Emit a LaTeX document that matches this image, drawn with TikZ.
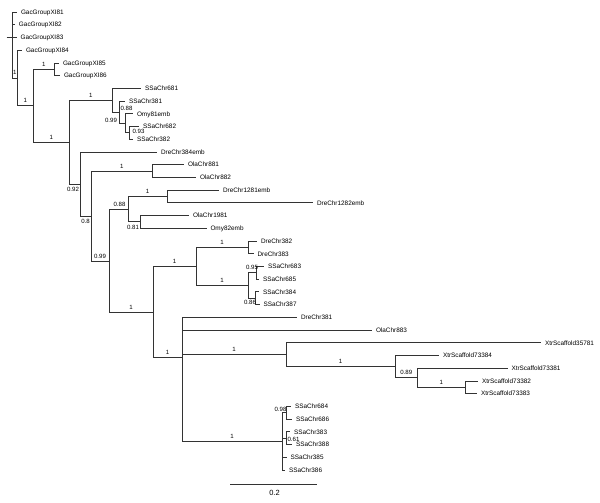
\documentclass[tikz,border=0pt]{standalone}
\usepackage{fontspec}
\setmainfont{Liberation Sans}
\tikzset{
  br/.style={draw=black!80, line width=0.75pt},
  tiplab/.style={anchor=base west, inner sep=0pt, font=\fontsize{6.4}{7.5}\selectfont, text=black},
  suplab/.style={anchor=center, inner sep=0pt, font=\fontsize{6.1}{7}\selectfont, text=black},
}
\newcommand{\mytip}[5]{%
  \coordinate (#1) at (#3,#4);
  \draw[br] (#2) |- (#1);
  \node[tiplab] (#1l) at ([xshift=3.8pt,yshift=-2.3pt]#1) {#5};}
\newcommand{\bslab}[4]{\node[suplab] (#1) at (#2,#3) {#4};}
\begin{document}
\begin{tikzpicture}[x=1pt,y=-1pt]
\useasboundingbox (0,0) rectangle (600,503);
% internal nodes
\coordinate (A) at (12.3,45.0);
\coordinate (B) at (17.3,77.95);
\coordinate (C) at (33.3,105.7);
\coordinate (D) at (54.3,69.25);
\coordinate (E) at (69.3,142.1);
\coordinate (F) at (112.3,100.2);
\coordinate (F1) at (119,112.15);
\coordinate (F2) at (125.7,123.3);
\coordinate (F3) at (129,132.85);
\coordinate (G) at (80,184.0);
\coordinate (H) at (91,216.15);
\coordinate (Ola8) at (152.7,171.0);
\coordinate (I) at (109,261.3);
\coordinate (J) at (128,209.15);
\coordinate (L) at (167,196.45);
\coordinate (M) at (140,221.85);
\coordinate (K) at (153,312.0);
\coordinate (N) at (196,266.4);
\coordinate (Q) at (248,247.35);
\coordinate (R) at (248,285.5);
\coordinate (S95) at (256.7,272.75);
\coordinate (S86) at (255,298.2);
\coordinate (O) at (182,357.6);
\coordinate (O3) at (182,398.0);
\coordinate (W) at (286,354.6);
\coordinate (X) at (395,366.55);
\coordinate (Y) at (417.7,377.7);
\coordinate (Z) at (465,387.25);
\coordinate (P) at (282,441.3);
\coordinate (S98) at (286.7,412.65);
\coordinate (S61) at (286,438.15);
\coordinate (root) at (6.7,37.4);
% internal branches
\draw[br] (A) |- (B);
\draw[br] (B) |- (C);
\draw[br] (C) |- (D);
\draw[br] (C) |- (E);
\draw[br] (E) |- (F);
\draw[br] (E) |- (G);
\draw[br] (F) |- (F1);
\draw[br] (F1) |- (F2);
\draw[br] (F2) |- (F3);
\draw[br] (G) |- (H);
\draw[br] (H) |- (Ola8);
\draw[br] (H) |- (I);
\draw[br] (I) |- (J);
\draw[br] (I) |- (K);
\draw[br] (J) |- (L);
\draw[br] (J) |- (M);
\draw[br] (K) |- (N);
\draw[br] (K) |- (O);
\draw[br] (N) |- (Q);
\draw[br] (N) |- (R);
\draw[br] (R) |- (S95);
\draw[br] (R) |- (S86);
\draw[br] (O) |- (O3);
\draw[br] (O3) |- (W);
\draw[br] (O3) |- (P);
\draw[br] (W) |- (X);
\draw[br] (X) |- (Y);
\draw[br] (Y) |- (Z);
\draw[br] (P) |- (S98);
\draw[br] (P) |- (S61);
% tips
\mytip{t0}{A}{17}{12.0}{GacGroupXI81}
\mytip{t1}{A}{15}{24.7}{GacGroupXI82}
\mytip{t2}{A}{16.7}{37.4}{GacGroupXI83}
\draw[br] (root) -- (t2);
\mytip{t3}{B}{22}{50.2}{GacGroupXI84}
\mytip{t4}{D}{59}{62.9}{GacGroupXI85}
\mytip{t5}{D}{60}{75.6}{GacGroupXI86}
\mytip{t6}{F}{141}{88.3}{SSaChr681}
\mytip{t7}{F1}{125}{101.0}{SSaChr381}
\mytip{t8}{F2}{133}{113.8}{Omy81emb}
\mytip{t9}{F3}{139}{126.5}{SSaChr682}
\mytip{t10}{F3}{133}{139.2}{SSaChr382}
\mytip{t11}{G}{157}{151.9}{DreChr384emb}
\mytip{t12}{Ola8}{184}{164.6}{OlaChr881}
\mytip{t13}{Ola8}{196}{177.4}{OlaChr882}
\mytip{t14}{L}{219}{190.1}{DreChr1281emb}
\mytip{t15}{L}{313}{202.8}{DreChr1282emb}
\mytip{t16}{M}{189}{215.5}{OlaChr1981}
\mytip{t17}{M}{206.5}{228.2}{Omy82emb}
\mytip{t18}{Q}{257}{241.0}{DreChr382}
\mytip{t19}{Q}{253.5}{253.7}{DreChr383}
\mytip{t20}{S95}{264}{266.4}{SSaChr683}
\mytip{t21}{S95}{259}{279.1}{SSaChr685}
\mytip{t22}{S86}{259}{291.8}{SSaChr384}
\mytip{t23}{S86}{259.5}{304.6}{SSaChr387}
\mytip{t24}{O}{297}{317.3}{DreChr381}
\mytip{t25}{O}{372}{330.0}{OlaChr883}
\mytip{t26}{W}{541}{342.7}{XtrScaffold35781}
\mytip{t27}{X}{439}{355.4}{XtrScaffold73384}
\mytip{t28}{Y}{507.5}{368.2}{XtrScaffold73381}
\mytip{t29}{Z}{478}{380.9}{XtrScaffold73382}
\mytip{t30}{Z}{477}{393.6}{XtrScaffold73383}
\mytip{t31}{S98}{291}{406.3}{SSaChr684}
\mytip{t32}{S98}{292}{419.0}{SSaChr686}
\mytip{t33}{S61}{290}{431.8}{SSaChr383}
\mytip{t34}{S61}{292}{444.5}{SSaChr388}
\mytip{t35}{P}{286.5}{457.2}{SSaChr385}
\mytip{t36}{P}{285}{469.9}{SSaChr386}
% support labels
\bslab{s1}{14.8}{72.9}{1}
\bslab{s2}{25.3}{100.7}{1}
\bslab{s3}{43.8}{64.2}{1}
\bslab{s4}{51.3}{137.1}{1}
\bslab{s5}{90.8}{95.2}{1}
\bslab{s6}{111}{120.5}{0.99}
\bslab{s7}{126.5}{108}{0.88}
\bslab{s8}{138.5}{131}{0.93}
\bslab{s9}{73}{189.5}{0.92}
\bslab{s10}{85.5}{221}{0.8}
\bslab{s11}{121.8}{166}{1}
\bslab{s12}{100}{256.3}{0.99}
\bslab{s13}{119.5}{204.2}{0.88}
\bslab{s14}{147.5}{191.5}{1}
\bslab{s15}{133}{227}{0.81}
\bslab{s16}{131}{307}{1}
\bslab{s17}{174.5}{261.4}{1}
\bslab{s18}{167.5}{352.6}{1}
\bslab{s19}{222}{242.4}{1}
\bslab{s20}{222}{280.5}{1}
\bslab{s21}{252}{267.3}{0.95}
\bslab{s22}{250}{302.5}{0.86}
\bslab{s23}{234}{349.6}{1}
\bslab{s24}{340.5}{361.5}{1}
\bslab{s25}{406.3}{372.7}{0.89}
\bslab{s26}{441.3}{382.3}{1}
\bslab{s27}{232}{436.3}{1}
\bslab{s28}{280.5}{409}{0.98}
\bslab{s29}{293.5}{439}{0.61}
% scale bar
\coordinate (sb1) at (230,484);
\coordinate (sb2) at (317,484);
\draw[br] (sb1) -- (sb2);
\node[anchor=center, inner sep=0pt, font=\fontsize{7.5}{8}\selectfont] (sbl) at (274.5,492.5) {0.2};
\end{tikzpicture}
\end{document}
